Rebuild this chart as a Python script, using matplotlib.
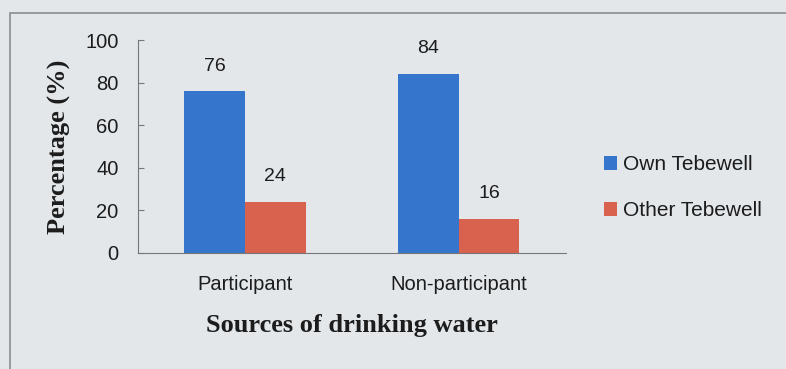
import matplotlib
matplotlib.use("Agg")
import matplotlib.pyplot as plt
from matplotlib.patches import Rectangle
import numpy as np

categories = ["Participant", "Non-participant"]
series_names = ["Own Tebewell", "Other Tebewell"]
own = [76, 84]
other = [24, 16]
yticks = [0, 20, 40, 60, 80, 100]

bg = "#e3e7ea"
blue = "#3675cc"
red = "#d8624d"
txt = "#1c1c1c"

fig = plt.figure(figsize=(7.86, 3.69), dpi=100, facecolor=bg)
ax = fig.add_axes([0.1756, 0.3144, 0.544, 0.577], facecolor=bg)

x = np.arange(len(categories))
w = 0.284
b1 = ax.bar(x - w / 2, own, w, color=blue, label=series_names[0])
b2 = ax.bar(x + w / 2, other, w, color=red, label=series_names[1])

tick_font = "Liberation Sans"
for bars, vals in ((b1, own), (b2, other)):
    for r, v in zip(bars, vals):
        ax.annotate(str(v), (r.get_x() + r.get_width() / 2, v), xytext=(0, 12),
                    textcoords="offset points", ha="center", va="bottom",
                    fontsize=14, family=tick_font, color=txt)

ax.set_xlim(-0.5, 1.5)
ax.set_ylim(0, 100)
ax.set_yticks(yticks)
ax.set_xticks(x)
ax.set_xticklabels(categories, fontsize=14.5, family=tick_font, color=txt)
ax.tick_params(axis="y", labelsize=14.5, length=4, direction="in", color="#777777",
               labelcolor=txt, pad=14)
ax.tick_params(axis="x", length=0, pad=16)
for lbl in ax.get_yticklabels():
    lbl.set_family(tick_font)
for s in ("top", "right"):
    ax.spines[s].set_visible(False)
ax.spines["left"].set_color("#777777")
ax.spines["bottom"].set_color("#777777")

ax.set_ylabel("Percentage (%)", fontsize=19, fontweight="bold", family="Liberation Serif",
              labelpad=10, color=txt)
ax.set_xlabel("Sources of drinking water", fontsize=19, fontweight="bold",
              family="Liberation Serif", labelpad=14, color=txt)

leg = fig.legend(handles=[b1, b2], loc="upper left", bbox_to_anchor=(0.745, 0.63),
                 frameon=False, handlelength=0.6, handleheight=0.6,
                 handletextpad=0.3, labelspacing=1.3,
                 prop={"family": tick_font, "size": 15})
for t in leg.get_texts():
    t.set_color(txt)

fig.patches.append(Rectangle((0.013, -0.1), 1.2, 1.065, transform=fig.transFigure,
                             fill=False, edgecolor="#8a8e92", linewidth=1.2))

fig.savefig("out.png", dpi=100, facecolor=bg)
